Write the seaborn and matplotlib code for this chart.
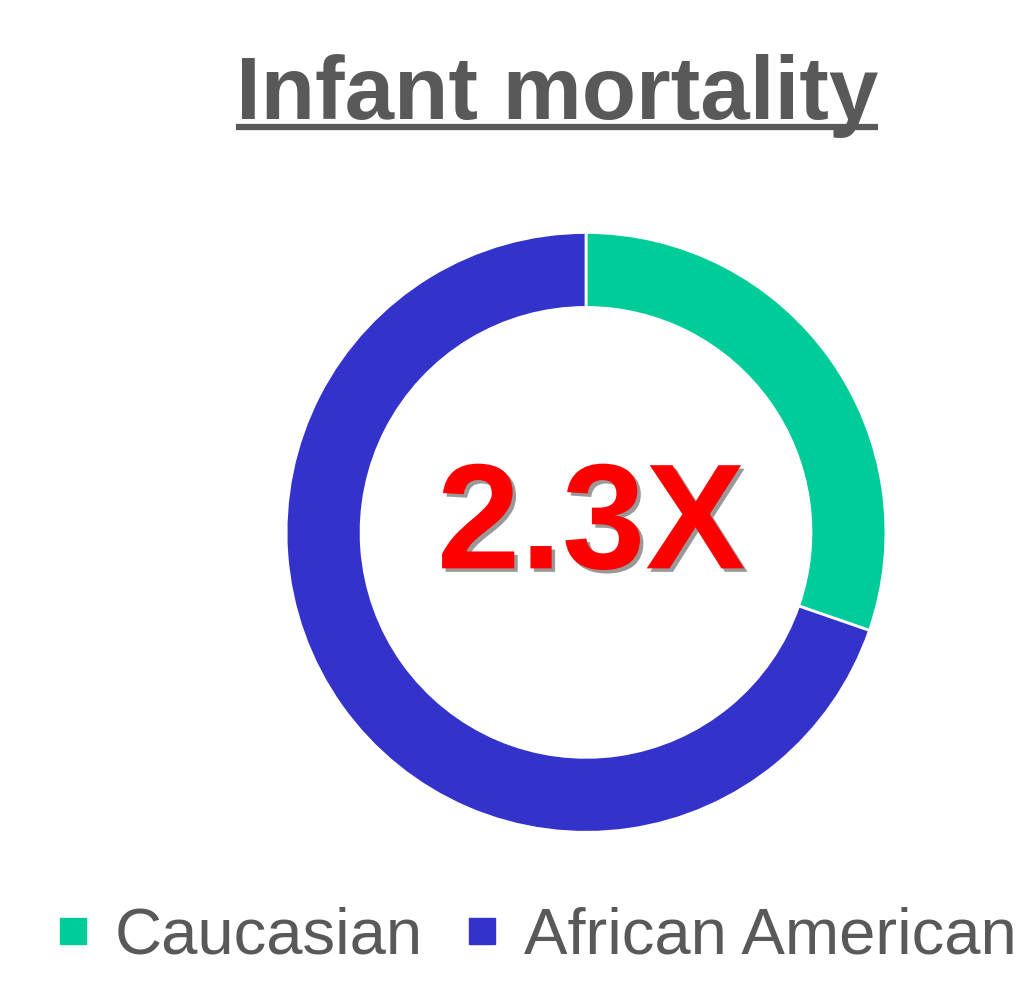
import matplotlib
matplotlib.use("Agg")
import matplotlib.pyplot as plt
import matplotlib.patheffects as pe
from matplotlib.lines import Line2D
import seaborn as sns

groups = ['Caucasian', 'African American']
shares = [30.3, 69.7]
colors = ['#00CC99', '#3333CC']
title = 'Infant mortality'
center_label = '2.3X'

sns.set_theme(style='white')
plt.rcParams['font.family'] = ['Liberation Sans', 'DejaVu Sans']
palette = sns.color_palette(colors)

fig = plt.figure(figsize=(10.29, 9.85), dpi=100)
ax = fig.add_axes([0.278, 0.155, 0.583, 0.609])

ax.pie(shares, colors=palette, startangle=90, counterclock=False, radius=1,
       wedgeprops=dict(width=0.25, edgecolor='white', linewidth=2))
ax.set_xlim(-1, 1)
ax.set_ylim(-1, 1)
ax.set_aspect('equal')

ax.text(0.017, -0.12, center_label, ha='center', va='baseline', fontsize=108,
        fontweight='bold', color='#FF0000',
        path_effects=[pe.withSimplePatchShadow(offset=(2.5, -2.5), shadow_rgbFace='#555555', alpha=0.6)])

# title with underline
fig.text(0.541, 0.879, title, ha='center', va='baseline', fontsize=64,
         fontweight='bold', color='#595959')
fig.add_artist(Line2D([0.229, 0.853], [0.8715, 0.8715], transform=fig.transFigure,
                      color='#595959', linewidth=4.5, solid_capstyle='butt'))

handles = [Line2D([], [], marker='s', linestyle='', markersize=19,
                  markerfacecolor=c, markeredgecolor=c) for c in palette]
fig.legend(handles, groups, loc='center', bbox_to_anchor=(0.52, 0.049), ncol=2,
           frameon=False, fontsize=47, labelcolor='#595959',
           handlelength=0.6, handletextpad=0.35, columnspacing=0.6, borderpad=0)

fig.savefig('out.png', dpi=100)
